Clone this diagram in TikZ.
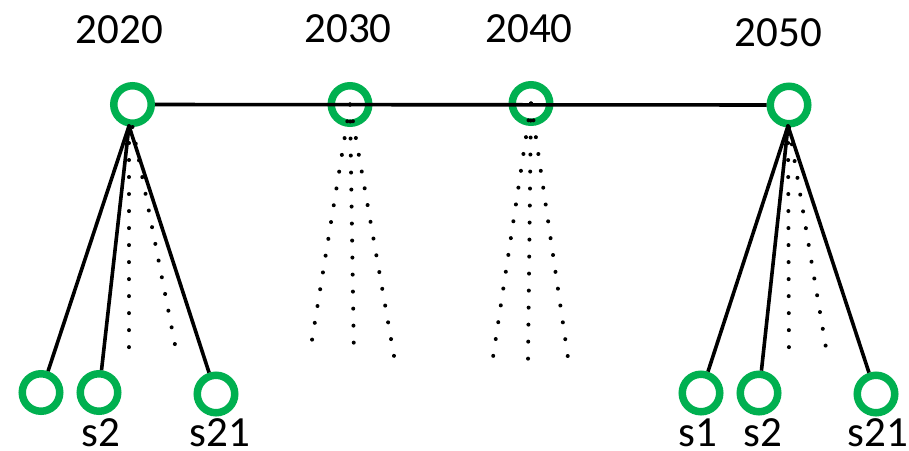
\documentclass[tikz,border=0pt]{standalone}
\usepackage{fontspec}
\setmainfont{Carlito}
\usepackage{xcolor}
\usepackage{tikz}

\definecolor{ringgreen}{HTML}{00B050}

\begin{document}
\begin{tikzpicture}[x=1pt, y=-1pt,
        ring/.style={circle, draw=ringgreen, line width=7.5pt, minimum size=37.5pt, inner sep=0pt},
        yearlbl/.style={draw=none, anchor=base, inner sep=0pt, font=\fontsize{43}{50}\selectfont},
        branch/.style={line width=3.6pt},
        dotline/.style={line width=4pt, line cap=round, dash pattern=on 0.01pt off 17pt}]
            \useasboundingbox (0,0) rectangle (909,450);

            \node[yearlbl] (t2020) at (119.5, 43) {2020};
            \node[yearlbl] (t2030) at (348, 42) {2030};
            \node[yearlbl] (t2040) at (529, 42) {2040};
            \node[yearlbl] (t2050) at (778.5, 46) {2050};

            \node[ring] (c2020) at (132.5, 104.5) {};
            \node[ring] (c2030) at (350, 104.5) {};
            \node[ring] (c2040) at (531, 103.5) {};
            \node[ring] (c2050) at (789, 105) {};

            \draw[branch] (c2020) -- (c2050);

            \node[ring] (l1) at (41, 392.5) {};
            \node[ring] (l2) at (99, 392.5) {};
            \node[ring] (l21) at (216, 394) {};
            \node[ring] (r1) at (701, 393) {};
            \node[ring] (r2) at (759, 393) {};
            \node[ring] (r21) at (876, 394) {};

            \node[yearlbl] (sl2) at (101, 446) {s2};
            \node[yearlbl] (sl21) at (220, 446) {s21};
            \node[yearlbl] (sr1) at (698, 446) {s1};
            \node[yearlbl] (sr2) at (763, 446) {s2};
            \node[yearlbl] (sr21) at (878, 446) {s21};

            \coordinate (aL) at (129, 126);
            \coordinate (aR) at (788, 126);

            \draw[branch] (aL) -- (l1);
            \draw[branch] (aL) -- (l2);
            \draw[branch] (aL) -- (l21);
            \draw[branch] (aR) -- (r1);
            \draw[branch] (aR) -- (r2);
            \draw[branch] (aR) -- (r21);

            \coordinate (eL1) at (129, 363);
            \coordinate (eL2) at (178, 360);
            \draw[dotline] (aL) -- (eL1);
            \draw[dotline] (c2020.south) -- (eL2);

            \coordinate (eA1) at (312, 340);
            \coordinate (eA2) at (354, 359);
            \coordinate (eA3) at (394, 356);
            \draw[dotline] (c2030.center) -- (eA1);
            \draw[dotline] (c2030.center) -- (eA2);
            \draw[dotline] (c2030.center) -- (eA3);

            \coordinate (eB1) at (492, 364);
            \coordinate (eB2) at (528, 362);
            \coordinate (eB3) at (568, 358);
            \draw[dotline] (c2040.center) -- (eB1);
            \draw[dotline] (c2040.center) -- (eB2);
            \draw[dotline] (c2040.center) -- (eB3);

            \coordinate (eR1) at (789, 363);
            \coordinate (eR2) at (828, 360);
            \draw[dotline] (aR) -- (eR1);
            \draw[dotline] (c2050.south) -- (eR2);

            \end{tikzpicture}
\end{document}
